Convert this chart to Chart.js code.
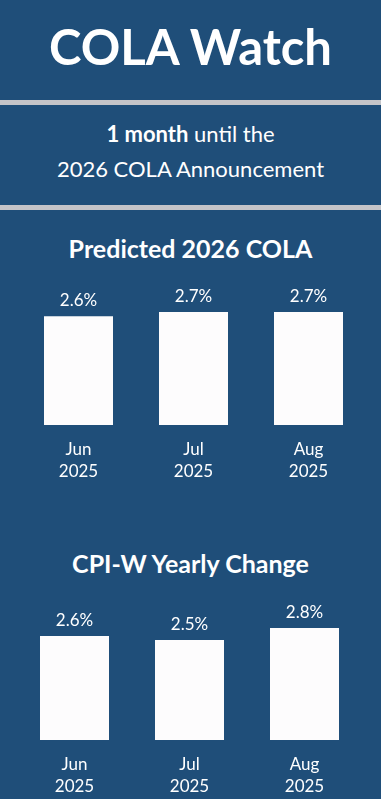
<!DOCTYPE html>
<html>
<head>
<meta charset="utf-8">
<script src="https://cdn.jsdelivr.net/npm/chart.js@4"></script>
<style>
  html, body { margin: 0; padding: 0; }
  body { width: 381px; height: 799px; background: #1F4E79; position: relative; overflow: hidden; font-family: Lato, "Open Sans", sans-serif; color: #FFFFFF; }
  .t { position: absolute; left: 0; width: 381px; text-align: center; line-height: 1.2; white-space: nowrap; }
  .rule { position: absolute; left: 0; width: 381px; height: 5px; background: #C4C4C8; }
  canvas { position: absolute; left: 0; }
</style>
</head>
<body>
<div class="t" style="top:16.6px;font-size:49px;font-weight:700;">COLA Watch</div>
<div class="rule" style="top:100px;"></div>
<div class="t" style="top:121.3px;font-size:22px;"><b>1 month</b> until the</div>
<div class="t" style="top:156.3px;font-size:22px;">2026 COLA Announcement</div>
<div class="rule" style="top:205px;"></div>
<div class="t" style="top:233.3px;font-size:25px;font-weight:700;">Predicted 2026 COLA</div>
<div class="t" style="top:548.3px;font-size:25px;font-weight:700;">CPI-W Yearly Change</div>

<canvas id="c1" width="381" height="230" style="top:270px;"></canvas>
<canvas id="c2" width="381" height="223" style="top:590px;"></canvas>

<script>
const months = [["Jun", "2025"], ["Jul", "2025"], ["Aug", "2025"]];
const predictedCola = [2.6, 2.7, 2.7];
const cpiwYearly = [2.6, 2.5, 2.8];

const valueLabels = {
  id: 'valueLabels',
  afterDatasetsDraw(chart) {
    const ctx = chart.ctx;
    const ds = chart.data.datasets[0];
    const meta = chart.getDatasetMeta(0);
    ctx.save();
    ctx.fillStyle = '#FFFFFF';
    ctx.font = '17px Lato, "Open Sans", sans-serif';
    ctx.textAlign = 'center';
    ctx.textBaseline = 'bottom';
    meta.data.forEach((bar, i) => {
      ctx.fillText(ds.data[i].toFixed(1) + '%', bar.x, bar.y - 7);
    });
    ctx.restore();
  }
};

function makeChart(id, values, yMax, pad) {
  return new Chart(document.getElementById(id), {
    type: 'bar',
    data: {
      labels: months,
      datasets: [{
        data: values,
        backgroundColor: '#FDFCFD',
        borderWidth: 0,
        barPercentage: 0.6,
        categoryPercentage: 1.0
      }]
    },
    options: {
      responsive: false,
      animation: false,
      devicePixelRatio: 1,
      layout: { padding: pad },
      plugins: { legend: { display: false }, tooltip: { enabled: false } },
      scales: {
        x: {
          grid: { display: false, drawTicks: false },
          border: { display: false },
          ticks: {
            color: '#FFFFFF',
            padding: 13,
            font: { family: 'Lato, "Open Sans", sans-serif', size: 17, lineHeight: 1.3 }
          }
        },
        y: { display: false, min: 0, max: yMax }
      }
    },
    plugins: [valueLabels]
  });
}

makeChart('c1', predictedCola, 3.2, { left: 21, right: 15, top: 21.2, bottom: 4.8 });
makeChart('c2', cpiwYearly, 3.0, { left: 17, right: 19, top: 29.9, bottom: 2.8 });
</script>
</body>
</html>
